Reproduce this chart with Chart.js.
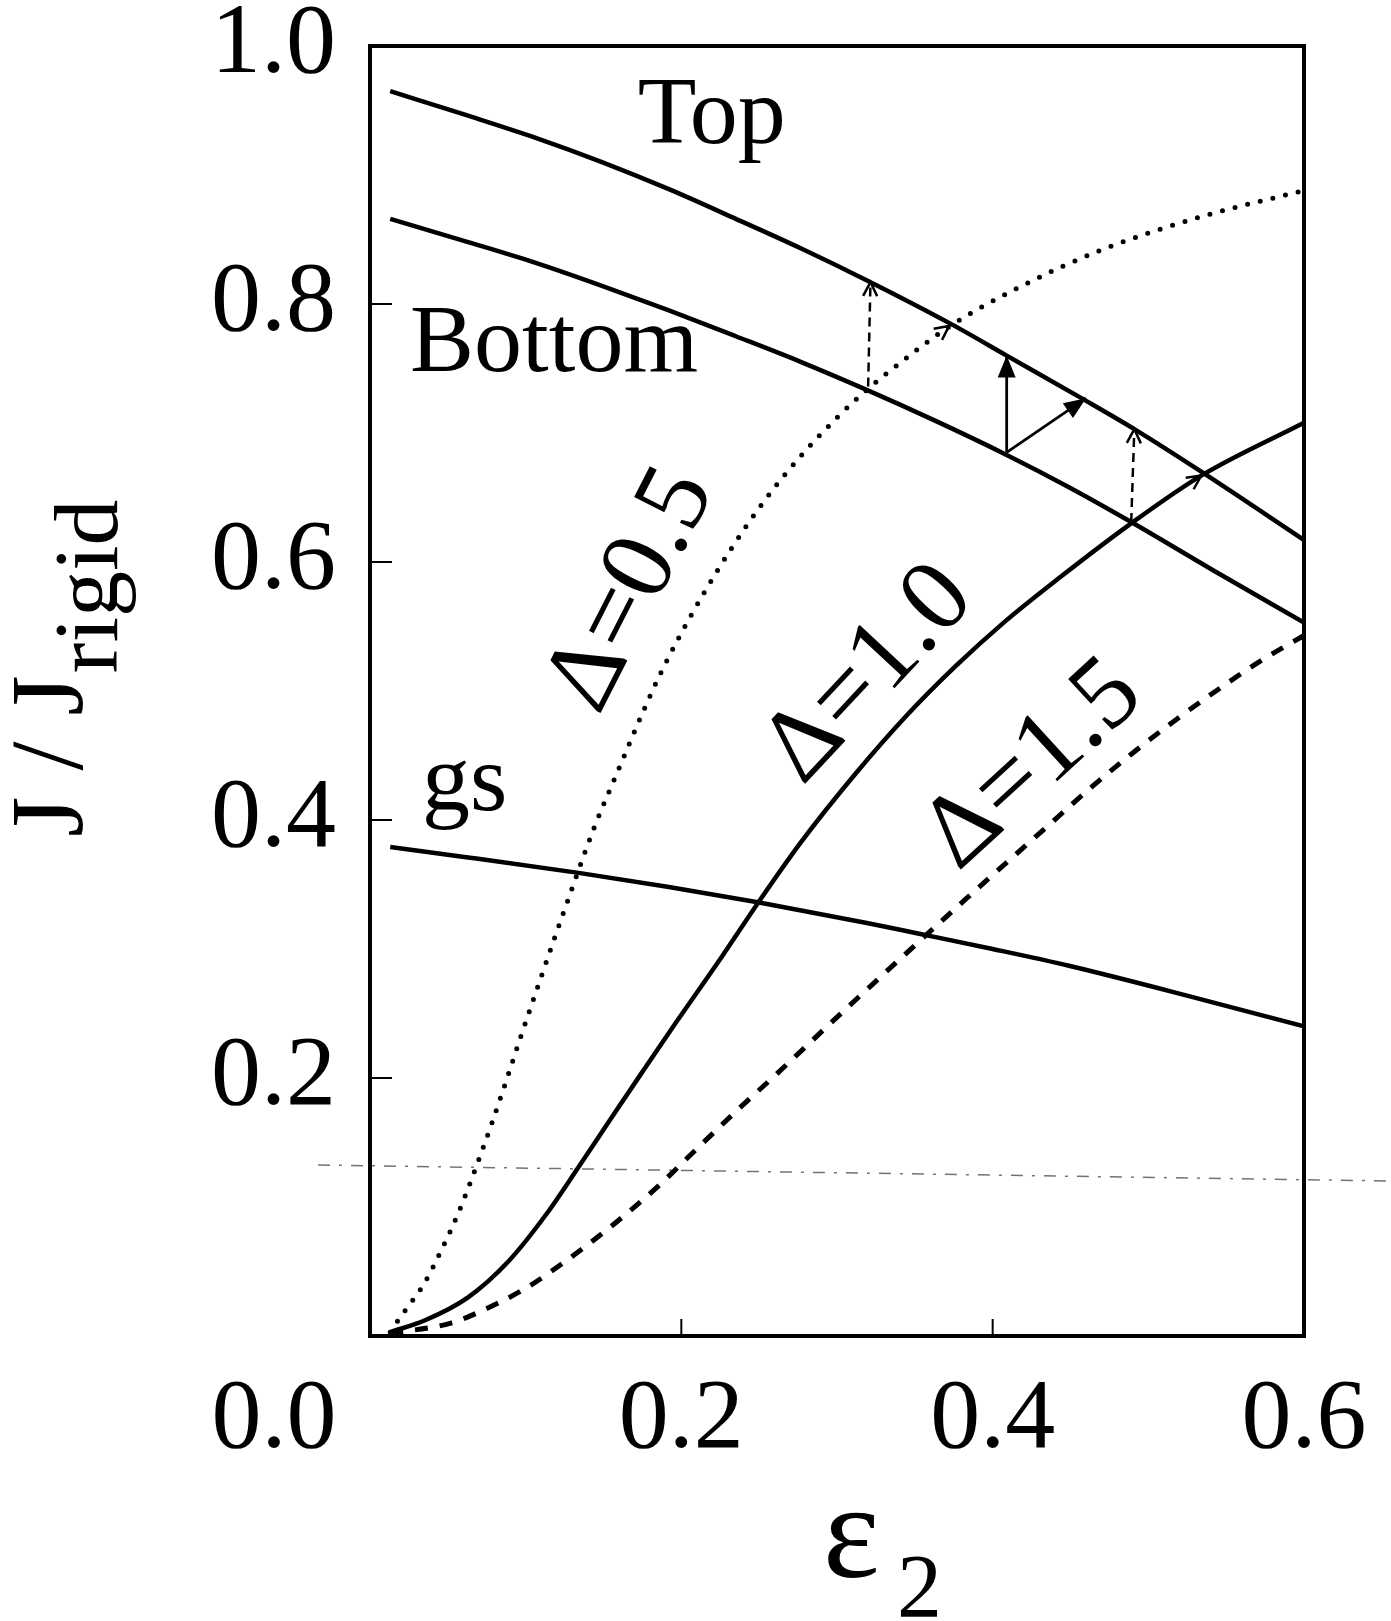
<!DOCTYPE html>
<html>
<head>
<meta charset="utf-8">
<script src="https://cdn.jsdelivr.net/npm/chart.js@4.4.0/dist/chart.umd.min.js"></script>
<style>
  html, body { margin: 0; padding: 0; background: #fff; }
  canvas { display: block; }
</style>
</head>
<body>
<canvas id="chart" width="1391" height="1621"></canvas>
<script>
  // values, pairs of [eps2, J/Jrigid]
  const topBand = [[0.013, 0.965], [0.063, 0.946], [0.106, 0.929], [0.149, 0.910], [0.192, 0.889],
    [0.235, 0.866], [0.277, 0.843], [0.318, 0.819], [0.374, 0.784], [0.409, 0.760],
    [0.457, 0.727], [0.491, 0.703], [0.534, 0.670], [0.6, 0.617]];
  const bottomBand = [[0.013, 0.866], [0.063, 0.848], [0.106, 0.832], [0.149, 0.814], [0.192, 0.795],
    [0.235, 0.775], [0.277, 0.755], [0.318, 0.734], [0.364, 0.709], [0.409, 0.683],
    [0.449, 0.658], [0.489, 0.631], [0.541, 0.594], [0.6, 0.553]];
  const groundBand = [[0.013, 0.379], [0.063, 0.371], [0.134, 0.359], [0.192, 0.348], [0.250, 0.336],
    [0.320, 0.320], [0.352, 0.312], [0.400, 0.300], [0.449, 0.287], [0.534, 0.261], [0.6, 0.240]];
  const delta05 = [[0.013, 0.003], [0.018, 0.012], [0.024, 0.022], [0.035, 0.041], [0.046, 0.067],
    [0.057, 0.096], [0.066, 0.124], [0.078, 0.164], [0.087, 0.196], [0.096, 0.229],
    [0.107, 0.268], [0.119, 0.310], [0.131, 0.351], [0.143, 0.391], [0.161, 0.443],
    [0.174, 0.480], [0.188, 0.517], [0.206, 0.558], [0.224, 0.595], [0.243, 0.630],
    [0.264, 0.664], [0.288, 0.697], [0.315, 0.729], [0.352, 0.765], [0.374, 0.784],
    [0.417, 0.813], [0.470, 0.842], [0.535, 0.868], [0.6, 0.888]];
  const delta10 = [[0.013, 0.003], [0.035, 0.012], [0.063, 0.030], [0.089, 0.058], [0.113, 0.094],
    [0.134, 0.131], [0.155, 0.169], [0.174, 0.203], [0.196, 0.242], [0.226, 0.294],
    [0.250, 0.337], [0.277, 0.383], [0.312, 0.436], [0.344, 0.480], [0.376, 0.519],
    [0.408, 0.554], [0.442, 0.587], [0.489, 0.630], [0.534, 0.667], [0.6, 0.708]];
  const delta15 = [[0.013, 0.002], [0.052, 0.010], [0.069, 0.018], [0.100, 0.037], [0.129, 0.061],
    [0.158, 0.088], [0.185, 0.116], [0.209, 0.144], [0.235, 0.174], [0.262, 0.204],
    [0.299, 0.246], [0.352, 0.305], [0.383, 0.339], [0.408, 0.366], [0.436, 0.396],
    [0.462, 0.424], [0.489, 0.451], [0.518, 0.478], [0.547, 0.503], [0.573, 0.524], [0.6, 0.543]];

  // transitions drawn as arrows (start, end)
  const arrowSolidUp = [[0.409, 0.685], [0.409, 0.760]];
  const arrowSolidDiag = [[0.409, 0.685], [0.460, 0.727]];
  const arrowDashLeft = [[0.320, 0.736], [0.3215, 0.817]];
  const arrowDashRight = [[0.489, 0.631], [0.491, 0.703]];
  const headOnDelta05 = [[0.352, 0.765], [0.372, 0.783]];
  const headOnDelta10 = [[0.489, 0.630], [0.534, 0.667]];

  const xTickLabels = ['0.0', '0.2', '0.4', '0.6'];
  const yTickLabels = ['0.2', '0.4', '0.6', '0.8', '1.0'];

  const SERIF = '"Liberation Serif", "Times New Roman", Times, serif';
  const toXY = pts => pts.map(([x, y]) => ({ x, y }));

  function curve(pts, extra) {
    return Object.assign({
      data: toXY(pts),
      borderColor: '#000',
      borderWidth: 4.5,
      pointRadius: 0,
      fill: false,
      cubicInterpolationMode: 'monotone',
    }, extra);
  }

  function arrow(pts, extra) {
    return Object.assign({
      data: toXY(pts),
      borderColor: '#000',
      borderWidth: 2.8,
      pointRadius: 0,
      fill: false,
      tension: 0,
    }, extra);
  }

  function drawHead(ctx, x, y, ang, kind) {
    ctx.save();
    ctx.translate(x, y);
    ctx.rotate(ang);
    ctx.fillStyle = '#000';
    ctx.strokeStyle = '#000';
    if (kind === 'filled') {
      ctx.beginPath();
      ctx.moveTo(0, 0);
      ctx.lineTo(-22, -9);
      ctx.lineTo(-22, 9);
      ctx.closePath();
      ctx.fill();
    } else {
      ctx.lineWidth = 2.5;
      ctx.beginPath();
      ctx.moveTo(-14, -7);
      ctx.lineTo(0, 0);
      ctx.lineTo(-14, 7);
      ctx.stroke();
    }
    ctx.restore();
  }

  const decorations = {
    id: 'decorations',
    afterDatasetsDraw(chart) {
      const { ctx, chartArea: a, scales: { x, y } } = chart;
      ctx.save();
      ctx.strokeStyle = '#000';
      ctx.lineWidth = 4;
      ctx.strokeRect(a.left, a.top, a.right - a.left, a.bottom - a.top);

      // short inward tick marks
      ctx.lineWidth = 2;
      ctx.beginPath();
      yTickLabels.map(Number).filter(v => v < 1).forEach(v => {
        const py = y.getPixelForValue(v);
        ctx.moveTo(a.left, py);
        ctx.lineTo(a.left + 22, py);
      });
      xTickLabels.map(Number).filter(v => v > 0 && v < 0.6).forEach(v => {
        const px = x.getPixelForValue(v);
        ctx.moveTo(px, a.bottom);
        ctx.lineTo(px, a.bottom - 17);
      });
      ctx.stroke();

      chart.data.datasets.forEach((ds, i) => {
        if (!ds.arrow) return;
        const pts = chart.getDatasetMeta(i).data;
        const p0 = pts[pts.length - 2];
        const p1 = pts[pts.length - 1];
        drawHead(ctx, p1.x, p1.y, Math.atan2(p1.y - p0.y, p1.x - p0.x), ds.arrow);
      });
      ctx.restore();
    },
    afterDraw(chart) {
      const { ctx, chartArea: a, scales: { x, y } } = chart;
      ctx.save();
      ctx.fillStyle = '#000';

      // faint dash-dot streak of the scanned page
      ctx.strokeStyle = 'rgba(0,0,0,0.55)';
      ctx.lineWidth = 1.5;
      ctx.setLineDash([12, 9, 3, 9]);
      ctx.beginPath();
      ctx.moveTo(318, 1165);
      ctx.lineTo(1391, 1181);
      ctx.stroke();
      ctx.setLineDash([]);

      // origin label sits left of the axis in the original
      ctx.font = '100px ' + SERIF;
      ctx.textAlign = 'center';
      ctx.textBaseline = 'middle';
      ctx.fillText(xTickLabels[0], x.getPixelForValue(0) - 96, a.bottom + 85);

      // curve names
      ctx.font = '96px ' + SERIF;
      ctx.textAlign = 'left';
      ctx.textBaseline = 'alphabetic';
      ctx.fillText('Top', x.getPixelForValue(0.172), y.getPixelForValue(0.925));
      ctx.fillText('Bottom', x.getPixelForValue(0.0257), y.getPixelForValue(0.748));
      ctx.fillText('gs', x.getPixelForValue(0.0334), y.getPixelForValue(0.408));

      const rotated = [
        ['\u0394=0.5', 0.1685, 0.578, -63],
        ['\u0394=1.0', 0.321, 0.5126, -47],
        ['\u0394=1.5', 0.4264, 0.442, -42.5],
      ];
      ctx.font = '104px ' + SERIF;
      ctx.textAlign = 'center';
      ctx.textBaseline = 'middle';
      rotated.forEach(([t, vx, vy, deg]) => {
        ctx.save();
        ctx.translate(x.getPixelForValue(vx), y.getPixelForValue(vy));
        ctx.rotate(deg * Math.PI / 180);
        ctx.fillText(t, 0, 0);
        ctx.restore();
      });

      // y title: J / J_rigid
      ctx.textAlign = 'left';
      ctx.textBaseline = 'alphabetic';
      ctx.save();
      ctx.translate(82, 837);
      ctx.rotate(-Math.PI / 2);
      ctx.font = '104px ' + SERIF;
      ctx.fillText('J / J', 0, 0);
      const w = ctx.measureText('J / J').width;
      ctx.font = '92px ' + SERIF;
      ctx.fillText('rigid', w + 2, 35);
      ctx.restore();

      // x title: eps_2
      ctx.font = '135px ' + SERIF;
      ctx.fillText('\u03b5', 823, 1577);
      ctx.font = '90px ' + SERIF;
      ctx.fillText('2', 897, 1617);
      ctx.restore();
    },
  };

  const tickFont = { family: SERIF, size: 100 };

  new Chart(document.getElementById('chart').getContext('2d'), {
    type: 'line',
    data: {
      datasets: [
        curve(topBand),
        curve(bottomBand),
        curve(groundBand),
        curve(delta05, { borderDash: [0, 13], borderCapStyle: 'round', borderWidth: 5 }),
        curve(delta10),
        curve(delta15, { borderDash: [13, 12], borderWidth: 5 }),
        arrow(arrowSolidUp, { arrow: 'filled' }),
        arrow(arrowSolidDiag, { arrow: 'filled' }),
        arrow(arrowDashLeft, { arrow: 'open', borderDash: [9, 6], borderWidth: 2.5 }),
        arrow(arrowDashRight, { arrow: 'open', borderDash: [9, 6], borderWidth: 2.5 }),
        arrow(headOnDelta05, { arrow: 'open', showLine: false }),
        arrow(headOnDelta10, { arrow: 'open', showLine: false }),
      ],
    },
    options: {
      responsive: false,
      animation: false,
      layout: { padding: { top: 46, right: 87, left: 0, bottom: 0 } },
      plugins: { legend: { display: false }, tooltip: { enabled: false } },
      scales: {
        x: {
          type: 'linear',
          min: 0,
          max: 0.6,
          afterBuildTicks: s => { s.ticks = xTickLabels.slice(1).map(t => ({ value: Number(t) })); },
          afterFit: s => { s.height = 285; s.paddingLeft = 0; s.paddingRight = 0; },
          ticks: { font: tickFont, color: '#000', padding: 25, maxRotation: 0,
            callback: v => v.toFixed(1) },
          grid: { display: false, drawTicks: false },
          border: { display: false },
        },
        y: {
          type: 'linear',
          min: 0,
          max: 1,
          afterBuildTicks: s => { s.ticks = yTickLabels.map(t => ({ value: Number(t) })); },
          afterFit: s => { s.width = 370; s.paddingTop = 0; s.paddingBottom = 0; },
          ticks: { font: tickFont, color: '#000', padding: 34,
            callback: v => v.toFixed(1) },
          grid: { display: false, drawTicks: false },
          border: { display: false },
        },
      },
    },
    plugins: [decorations],
  });
</script>
</body>
</html>
